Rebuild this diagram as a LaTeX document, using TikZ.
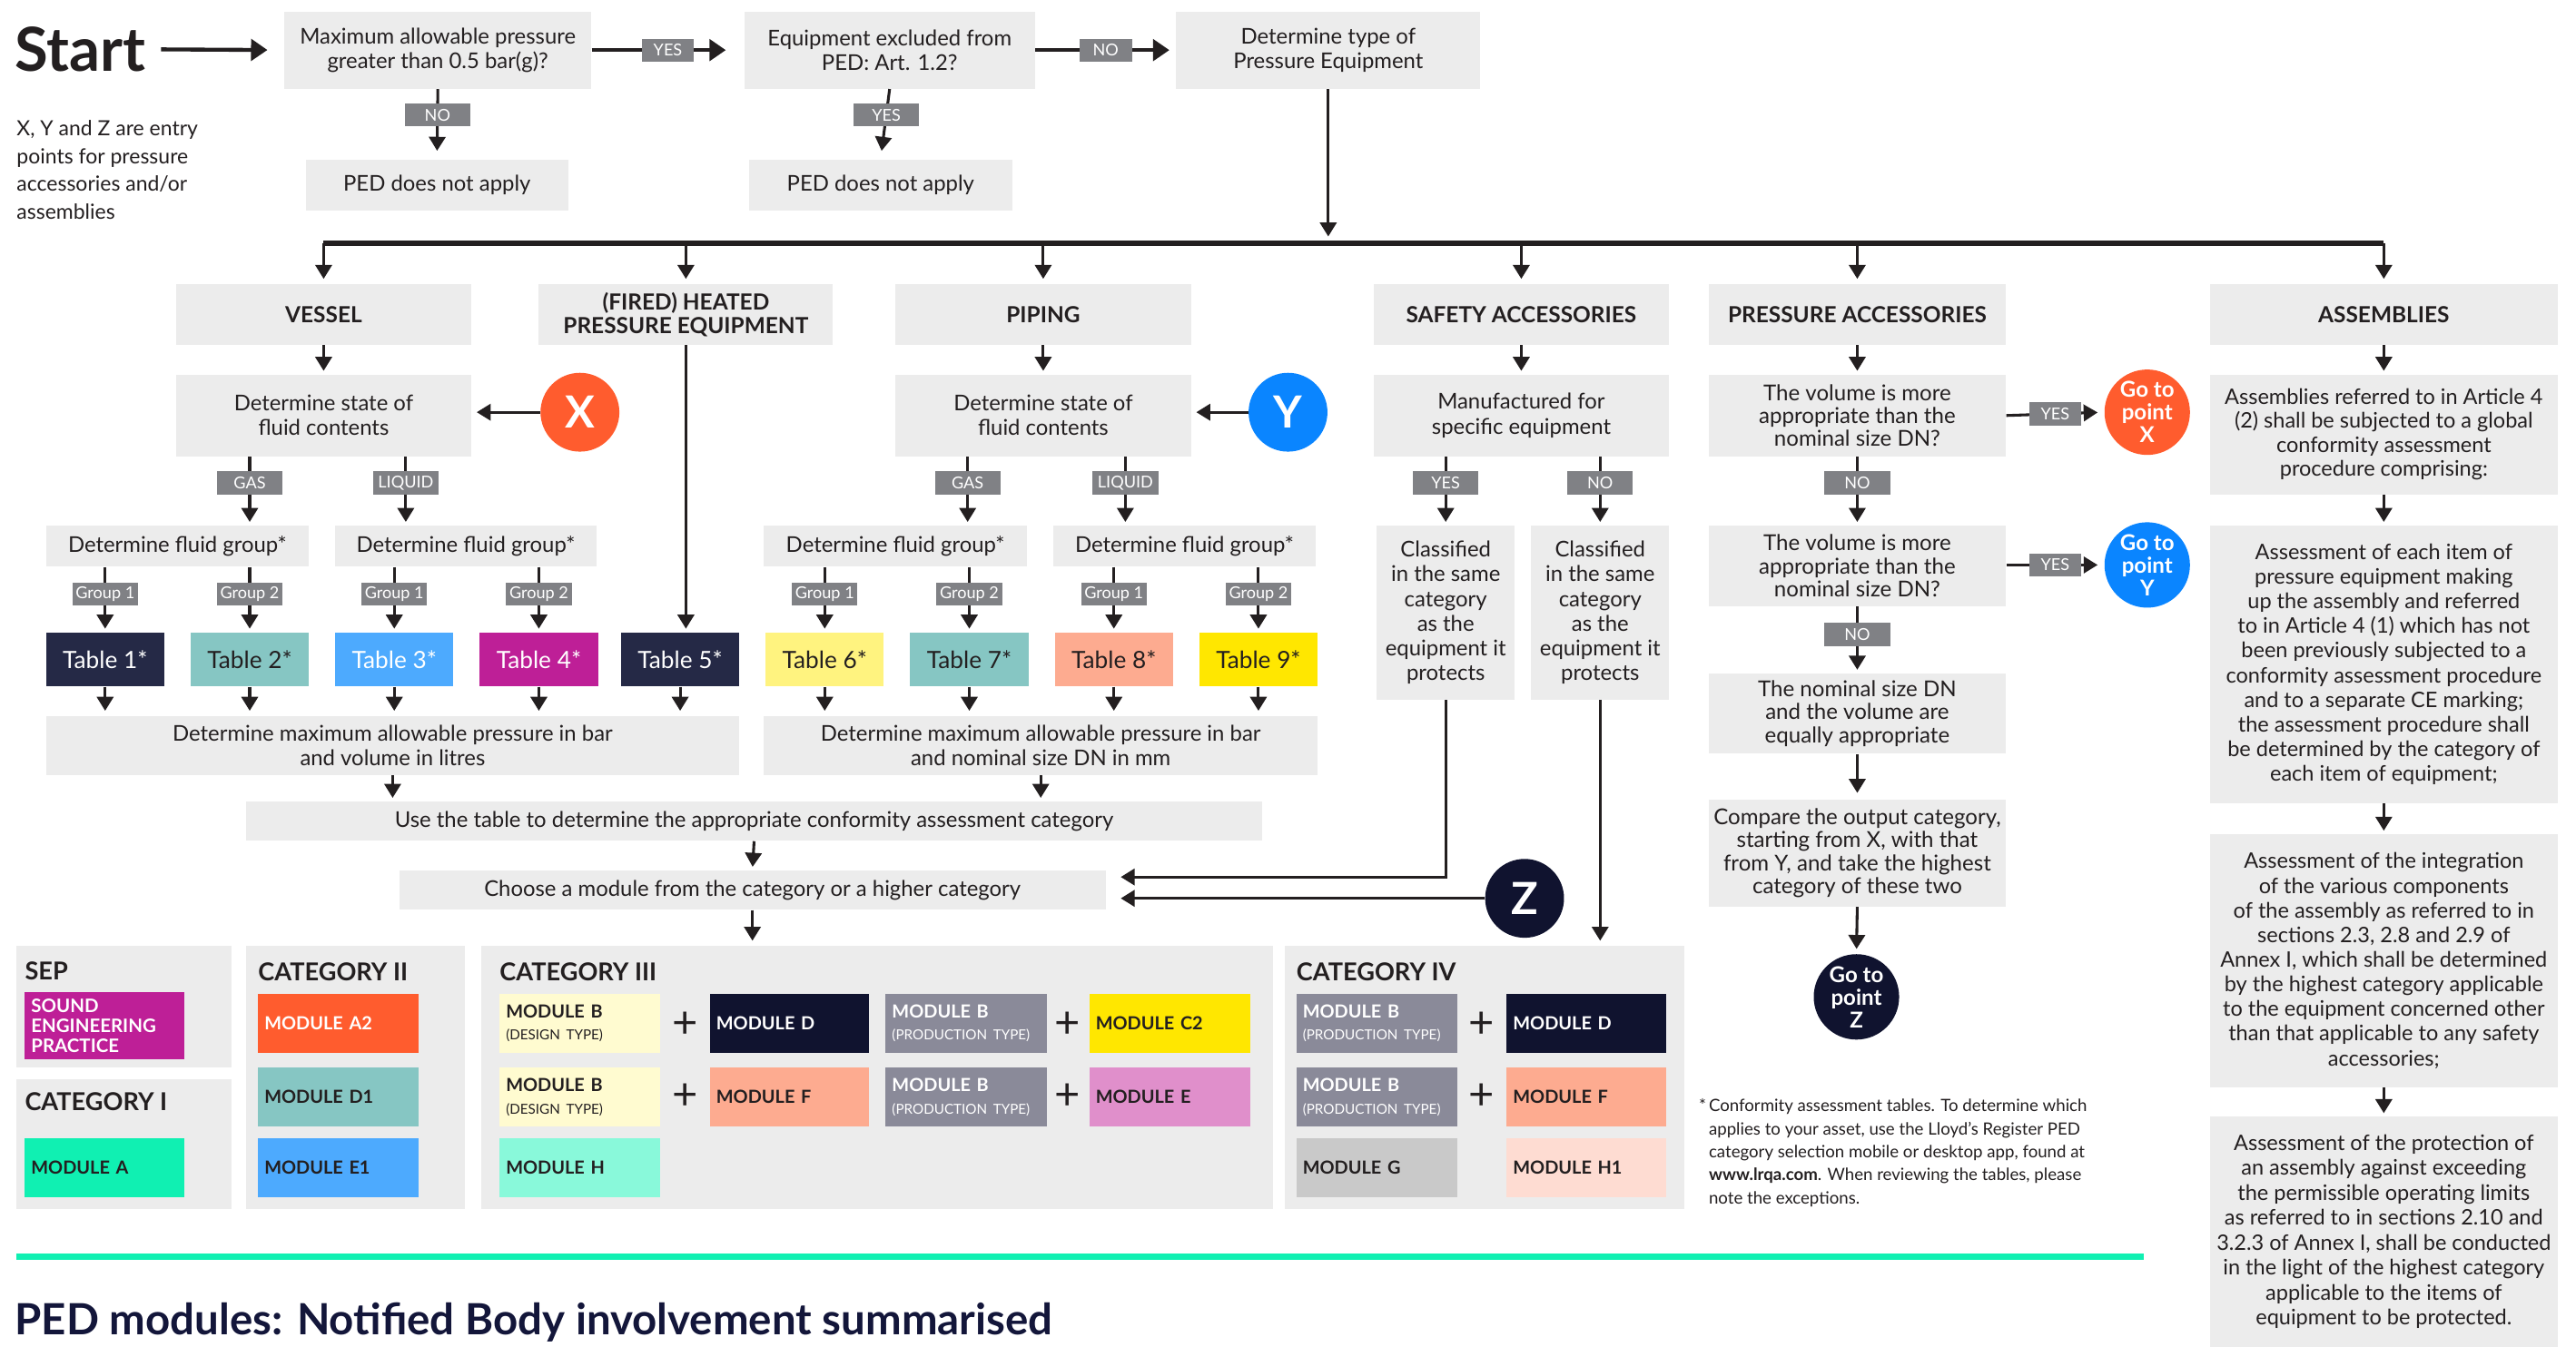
\documentclass[tikz,border=0pt]{standalone}
\usepackage{fontspec}
\setmainfont{Lato}
\usetikzlibrary{arrows.meta}
\definecolor{ink}{HTML}{231F20}
\definecolor{boxg}{HTML}{ECECEC}
\definecolor{lblg}{HTML}{808185}
\definecolor{navyA}{HTML}{252946}
\definecolor{navyB}{HTML}{10132F}
\definecolor{tealA}{HTML}{86C6C3}
\definecolor{blueA}{HTML}{4DAAFE}
\definecolor{magA}{HTML}{BE1F97}
\definecolor{orA}{HTML}{FF5C2E}
\definecolor{ylA}{HTML}{FFF37F}
\definecolor{ylB}{HTML}{FFE700}
\definecolor{salA}{HTML}{FDAB90}
\definecolor{blueY}{HTML}{0A85FF}
\definecolor{mintA}{HTML}{10F0B2}
\definecolor{mintB}{HTML}{89F9DA}
\definecolor{paleY}{HTML}{FFFBD0}
\definecolor{greyB}{HTML}{8A8A99}
\definecolor{pinkE}{HTML}{E08FCB}
\definecolor{greyG}{HTML}{C9C9C9}
\definecolor{pinkH}{HTML}{FEDCD2}
\definecolor{titleN}{HTML}{13163A}
\newcommand\fsz[2]{\fontsize{#1}{#2}\selectfont}
\newcommand\gbox[7][]{\node[#1,minimum width={(#4)-(#2)},minimum height={(#5)-(#3)}] (#6) at ({((#2)+(#4))/2},{((#3)+(#5))/2}) {#7};}
\newcommand\modbox[7][]{\pgfmathsetmacro\mdw{(#4)-(#2)-8}\node[module,#1,text width=\mdw pt,minimum height={(#5)-(#3)}] (#6) at ({((#2)+(#4))/2},{((#3)+(#5))/2}) {#7};}
\newcommand\subt[1]{{\mdseries\fsz{8.4}{13.5}#1}}
\begin{document}
\begin{tikzpicture}[x=1pt,y=-1pt,
  box/.style={fill=boxg,inner sep=0pt,align=center,text=ink,font=\fsz{13.2}{15}},
  hdr/.style={box,font=\bfseries\fsz{13.5}{14.5}},
  asm/.style={box,font=\fsz{13}{15}},
  panel/.style={fill=boxg,inner sep=0pt},
  lbl/.style={fill=lblg,text=white,inner sep=0pt,minimum width=40,minimum height=14,font=\fsz{10}{10}},
  lbls/.style={lbl,minimum width=32},
  tbl/.style={inner sep=0pt,font=\fsz{14.5}{16}},
  circ/.style={circle,inner sep=0pt,text=white,align=center},
  gocirc/.style={circ,minimum size=52,font=\bfseries\fsz{13.3}{13.8}},
  module/.style={inner xsep=4pt,inner ysep=0pt,align=left,text=ink,font=\bfseries\fsz{11}{13.5}},
  cattitle/.style={anchor=west,inner sep=0pt,text=ink,font=\bfseries\fsz{15}{16}},
  plus/.style={inner sep=0pt,text=ink,font=\fsz{27}{27}},
  arr/.style={draw=ink,line width=1.7pt,-{Triangle[width=10pt,length=8.5pt]},shorten >=2pt},
  arrT/.style={arr,line width=2.4pt,-{Triangle[width=13pt,length=10pt]}}
]
\useasboundingbox[fill=white] (0,0) rectangle (1568,820);

% ---------- top row ----------
\node[anchor=west,inner sep=0pt,text=ink,font=\bfseries\fsz{37}{40}] (start) at (9,30) {Start};
\gbox[box]{173}{7}{360}{54}{q1}{Maximum allowable pressure\\greater than 0.5 bar(g)?}
\gbox[box]{453}{7}{630}{54}{q2}{Equipment excluded from\\PED: Art. 1.2?}
\gbox[box]{716}{7}{901}{54}{q3}{Determine type of\\Pressure Equipment}
\gbox[box]{186}{97}{346}{128}{na1}{PED does not apply}
\gbox[box]{456}{97}{616}{128}{na2}{PED does not apply}
\node[anchor=north west,inner sep=0pt,align=left,text=ink,font=\fsz{12.7}{17}] (note) at (10,73)
  {X, Y and Z are entry\\points for pressure\\accessories and/or\\assemblies};

\draw[arrT,shorten <=9pt,shorten >=10pt] (start.east) -- (q1.west);
\draw[arrT,shorten >=11pt] (q1.east) -- node[lbls]{YES} (q2.west);
\draw[arrT,shorten >=4pt] (q2.east) -- node[lbls]{NO} (q3.west);
\draw[arr,shorten >=5pt] (q1.south) -- node[lbl,pos=0.37]{NO} (na1.north);
\draw[arr,shorten >=5pt] (q2.south) -- node[lbl,pos=0.37]{YES} (na2.north);

% ---------- equipment types ----------
\coordinate (bar) at (0,148);
\gbox[hdr]{107}{173}{287}{210}{vessel}{VESSEL}
\gbox[hdr]{328}{173}{507}{210}{fired}{(FIRED) HEATED\\PRESSURE EQUIPMENT}
\gbox[hdr]{545}{173}{725}{210}{piping}{PIPING}
\gbox[hdr]{836}{173}{1016}{210}{safety}{SAFETY ACCESSORIES}
\gbox[hdr]{1040}{173}{1221}{210}{pacc}{PRESSURE ACCESSORIES}
\gbox[hdr]{1345}{173}{1557}{210}{assem}{ASSEMBLIES}
\draw[ink,line width=3pt] (vessel.north |- bar) -- (assem.north |- bar);
\draw[arr,shorten >=4pt] (q3.south) -- (q3.south |- bar);
\foreach \n in {vessel,fired,piping,safety,pacc,assem}
  \draw[arr,shorten >=3pt] (\n.north |- bar) -- (\n.north);

% ---------- vessel ----------
\gbox[box]{107}{228}{287}{278}{vstate}{Determine state of\\fluid contents}
\node[circ,fill=orA,minimum size=48,font=\bfseries\fsz{27}{28}] (X) at (353,251) {X};
\draw[arr,shorten >=3pt] (X.west) -- (X.west -| vstate.east);
\draw[arr] (vessel.south) -- (vstate.north);
\gbox[box]{28}{320}{188}{345}{vfg1}{Determine fluid group*}
\gbox[box]{204}{320}{363}{345}{vfg2}{Determine fluid group*}
\draw[arr] ([xshift=-45pt]vstate.south) -- node[lbl,pos=0.38]{GAS} ([xshift=-45pt]vstate.south |- vfg1.north);
\draw[arr] ([xshift=50pt]vstate.south) -- node[lbl,pos=0.38]{LIQUID} ([xshift=50pt]vstate.south |- vfg2.north);
\gbox[tbl,fill=navyA,text=white]{28}{385}{100}{418}{t1}{Table 1*}
\gbox[tbl,fill=tealA,text=ink]{116}{385}{188}{418}{t2}{Table 2*}
\gbox[tbl,fill=blueA,text=white]{204}{385}{276}{418}{t3}{Table 3*}
\gbox[tbl,fill=magA,text=white]{292}{385}{364}{418}{t4}{Table 4*}
\gbox[tbl,fill=navyA,text=white]{378}{385}{450}{418}{t5}{Table 5*}
\draw[arr] (t1.north |- vfg1.south) -- node[lbl,pos=0.42]{Group 1} (t1.north);
\draw[arr] (t2.north |- vfg1.south) -- node[lbl,pos=0.42]{Group 2} (t2.north);
\draw[arr] (t3.north |- vfg2.south) -- node[lbl,pos=0.42]{Group 1} (t3.north);
\draw[arr] (t4.north |- vfg2.south) -- node[lbl,pos=0.42]{Group 2} (t4.north);
\draw[arr] (fired.south) -- (fired.south |- t5.north);
\gbox[box]{28}{436}{450}{472}{vmax}{Determine maximum allowable pressure in bar\\and volume in litres}
\foreach \t in {t1,t2,t3,t4,t5}
  \draw[arr,shorten >=3pt] (\t.south) -- (\t.south |- vmax.north);

% ---------- piping ----------
\gbox[box]{545}{228}{725}{278}{pstate}{Determine state of\\fluid contents}
\node[circ,fill=blueY,minimum size=48,font=\bfseries\fsz{27}{28}] (Y) at (784,251) {Y};
\draw[arr,shorten >=3pt] (Y.west) -- (Y.west -| pstate.east);
\draw[arr] (piping.south) -- (pstate.north);
\gbox[box]{465}{320}{625}{345}{pfg1}{Determine fluid group*}
\gbox[box]{641}{320}{801}{345}{pfg2}{Determine fluid group*}
\draw[arr] ([xshift=-46pt]pstate.south) -- node[lbl,pos=0.38]{GAS} ([xshift=-46pt]pstate.south |- pfg1.north);
\draw[arr] ([xshift=50pt]pstate.south) -- node[lbl,pos=0.38]{LIQUID} ([xshift=50pt]pstate.south |- pfg2.north);
\gbox[tbl,fill=ylA,text=ink]{466}{385}{538}{418}{t6}{Table 6*}
\gbox[tbl,fill=tealA,text=ink]{554}{385}{626}{418}{t7}{Table 7*}
\gbox[tbl,fill=salA,text=ink]{642}{385}{714}{418}{t8}{Table 8*}
\gbox[tbl,fill=ylB,text=ink]{730}{385}{802}{418}{t9}{Table 9*}
\draw[arr] (t6.north |- pfg1.south) -- node[lbl,pos=0.42]{Group 1} (t6.north);
\draw[arr] (t7.north |- pfg1.south) -- node[lbl,pos=0.42]{Group 2} (t7.north);
\draw[arr] (t8.north |- pfg2.south) -- node[lbl,pos=0.42]{Group 1} (t8.north);
\draw[arr] (t9.north |- pfg2.south) -- node[lbl,pos=0.42]{Group 2} (t9.north);
\gbox[box]{465}{436}{802}{472}{pmax}{Determine maximum allowable pressure in bar\\and nominal size DN in mm}
\foreach \t in {t6,t7,t8,t9}
  \draw[arr,shorten >=3pt] (\t.south) -- (\t.south |- pmax.north);

% ---------- conformity ----------
\gbox[box]{150}{488}{768}{512}{use}{Use the table to determine the appropriate conformity assessment category}
\gbox[box]{243}{530}{673}{554}{choose}{Choose a module from the category or a higher category}
\draw[arr] (vmax.south) -- (vmax.south |- use.north);
\draw[arr] (pmax.south) -- (pmax.south |- use.north);
\draw[arr] (use.south) -- (choose.north);

% ---------- safety accessories ----------
\gbox[box]{836}{228}{1016}{278}{sman}{Manufactured for\\specific equipment}
\draw[arr] (safety.south) -- (sman.north);
\gbox[box,font=\fsz{13.2}{15}]{838}{320}{922}{426}{cy}{Classified\\in the same\\category\\as the\\equipment it\\protects}
\gbox[box,font=\fsz{13.2}{15}]{932}{320}{1016}{426}{cn}{Classified\\in the same\\category\\as the\\equipment it\\protects}
\draw[arr] (cy.north |- sman.south) -- node[lbl,pos=0.38]{YES} (cy.north);
\draw[arr] (cn.north |- sman.south) -- node[lbl,pos=0.38]{NO} (cn.north);
\node[circ,fill=navyB,minimum size=48,font=\bfseries\fsz{27}{28}] (Z) at (928,547) {Z};
\draw[arr,shorten >=9pt] (cy.south) |- ([yshift=8pt]choose.east);
\draw[arr,shorten >=9pt] (Z.west) -- (Z.west -| choose.east);

% ---------- pressure accessories ----------
\gbox[box,font=\fsz{13.3}{14}]{1040}{228}{1221}{278}{pa1}{The volume is more\\appropriate than the\\nominal size DN?}
\gbox[box,font=\fsz{13.3}{14}]{1040}{320}{1221}{369}{pa2}{The volume is more\\appropriate than the\\nominal size DN?}
\gbox[box,font=\fsz{13.3}{14}]{1040}{410}{1221}{459}{pa3}{The nominal size DN\\and the volume are\\equally appropriate}
\gbox[box,font=\fsz{13.3}{14}]{1040}{487}{1221}{552}{pa4}{Compare the output category,\\starting from X, with that\\from Y, and take the highest\\category of these two}
\node[gocirc,fill=orA] (GX) at (1307,251) {Go to\\point\\X};
\node[gocirc,fill=blueY] (GY) at (1307,344) {Go to\\point\\Y};
\node[gocirc,fill=navyB] (GZ) at (1130,607) {Go to\\point\\Z};
\draw[arr] (pacc.south) -- (pa1.north);
\draw[arr,shorten >=4pt] (pa1.east) -- node[lbls]{YES} (GX.west);
\draw[arr,shorten >=4pt] (pa2.east |- GY.west) -- node[lbls]{YES} (GY.west);
\draw[arr] (pa1.south) -- node[lbl,pos=0.38]{NO} (pa2.north);
\draw[arr] (pa2.south) -- node[lbl,pos=0.42]{NO} (pa3.north);
\draw[arr,shorten >=4pt] (pa3.south) -- (pa4.north);
\draw[arr,shorten >=3pt] (pa4.south) -- (GZ.north);

% ---------- assemblies ----------
\gbox[asm,font=\fsz{13}{14.7}]{1345}{228}{1557}{301}{as1}{Assemblies referred to in Article 4\\(2) shall be subjected to a global\\conformity assessment\\procedure comprising:}
\gbox[asm]{1345}{320}{1557}{489}{as2}{Assessment of each item of\\pressure equipment making\\up the assembly and referred\\to in Article 4 (1) which has not\\been previously subjected to a\\conformity assessment procedure\\and to a separate CE marking;\\the assessment procedure shall\\be determined by the category of\\each item of equipment;}
\gbox[asm]{1345}{508}{1557}{662}{as3}{Assessment of the integration\\of the various components\\of the assembly as referred to in\\sections 2.3, 2.8 and 2.9 of\\Annex I, which shall be determined\\by the highest category applicable\\to the equipment concerned other\\than that applicable to any safety\\accessories;}
\gbox[asm,font=\fsz{13}{15.2}]{1345}{680}{1557}{820}{as4}{Assessment of the protection of\\an assembly against exceeding\\the permissible operating limits\\as referred to in sections 2.10 and\\3.2.3 of Annex I, shall be conducted\\in the light of the highest category\\applicable to the items of\\equipment to be protected.}
\draw[arr] (assem.south) -- (as1.north);
\draw[arr] (as1.south) -- (as2.north);
\draw[arr] (as2.south) -- (as3.north);
\draw[arr] (as3.south) -- (as4.north);

% ---------- category panels ----------
\gbox[panel]{10}{576}{141}{650}{sep}{}
\gbox[panel]{10}{657}{141}{736}{cat1}{}
\gbox[panel]{150}{576}{283}{736}{cat2}{}
\gbox[panel]{293}{576}{775}{736}{cat3}{}
\gbox[panel]{782}{576}{1025}{736}{cat4}{}
\draw[arr,shorten >=3pt] (choose.south) -- (choose.south |- cat3.north);
\draw[arr,shorten >=3pt] (cn.south) -- (cn.south |- cat4.north);
\node[cattitle] (tsep) at (15,591) {SEP};
\node[cattitle] (tc1) at (15,671) {CATEGORY I};
\node[cattitle] (tc2) at (157,592) {CATEGORY II};
\node[cattitle] (tc3) at (304,592) {CATEGORY III};
\node[cattitle] (tc4) at (789,592) {CATEGORY IV};

\modbox[fill=magA,text=white,font=\bfseries\fsz{11.3}{12}]{15}{604}{112}{645}{msep}{SOUND\\ENGINEERING\\PRACTICE}
\modbox[fill=mintA]{15}{693}{112}{729}{ma}{MODULE A}
\modbox[fill=orA,text=white]{157}{605}{255}{641}{ma2}{MODULE A2}
\modbox[fill=tealA]{157}{650}{255}{686}{md1}{MODULE D1}
\modbox[fill=blueA]{157}{693}{255}{729}{me1}{MODULE E1}

\modbox[fill=paleY]{304}{605}{402}{641}{c3b1}{MODULE B\\\subt{(DESIGN TYPE)}}
\modbox[fill=navyB,text=white]{432}{605}{529}{641}{c3d}{MODULE D}
\modbox[fill=greyB,text=white]{539}{605}{637}{641}{c3b3}{MODULE B\\\subt{(PRODUCTION TYPE)}}
\modbox[fill=ylB]{663}{605}{761}{641}{c3c2}{MODULE C2}
\modbox[fill=paleY]{304}{650}{402}{686}{c3b2}{MODULE B\\\subt{(DESIGN TYPE)}}
\modbox[fill=salA]{432}{650}{529}{686}{c3f}{MODULE F}
\modbox[fill=greyB,text=white]{539}{650}{637}{686}{c3b4}{MODULE B\\\subt{(PRODUCTION TYPE)}}
\modbox[fill=pinkE]{663}{650}{761}{686}{c3e}{MODULE E}
\modbox[fill=mintB]{304}{693}{402}{729}{c3h}{MODULE H}

\modbox[fill=greyB,text=white]{789}{605}{887}{641}{c4b1}{MODULE B\\\subt{(PRODUCTION TYPE)}}
\modbox[fill=navyB,text=white]{917}{605}{1014}{641}{c4d}{MODULE D}
\modbox[fill=greyB,text=white]{789}{650}{887}{686}{c4b2}{MODULE B\\\subt{(PRODUCTION TYPE)}}
\modbox[fill=salA]{917}{650}{1014}{686}{c4f}{MODULE F}
\modbox[fill=greyG]{789}{693}{887}{729}{c4g}{MODULE G}
\modbox[fill=pinkH]{917}{693}{1014}{729}{c4h1}{MODULE H1}

\node[plus] (p1) at (417,624) {+};
\node[plus] (p2) at (650,624) {+};
\node[plus] (p3) at (417,668) {+};
\node[plus] (p4) at (650,668) {+};
\node[plus] (p5) at (902,624) {+};
\node[plus] (p6) at (902,668) {+};

% ---------- footnote & footer ----------
\node[anchor=north west,inner sep=0pt,align=left,text=ink,font=\fsz{10.3}{14}] (foot) at (1040,669)
  {\llap{*\,}Conformity assessment tables. To determine which\\applies to your asset, use the Lloyd’s Register PED\\category selection mobile or desktop app, found at\\\textbf{www.lrqa.com}. When reviewing the tables, please\\note the exceptions.};
\draw[mintA,line width=4pt] (10,765) -- (1305,765);
\node[anchor=west,inner sep=0pt,text=titleN,font=\bfseries\fsz{26.2}{30}] (title) at (9,805) {PED modules: Notified Body involvement summarised};
\end{tikzpicture}
\end{document}
